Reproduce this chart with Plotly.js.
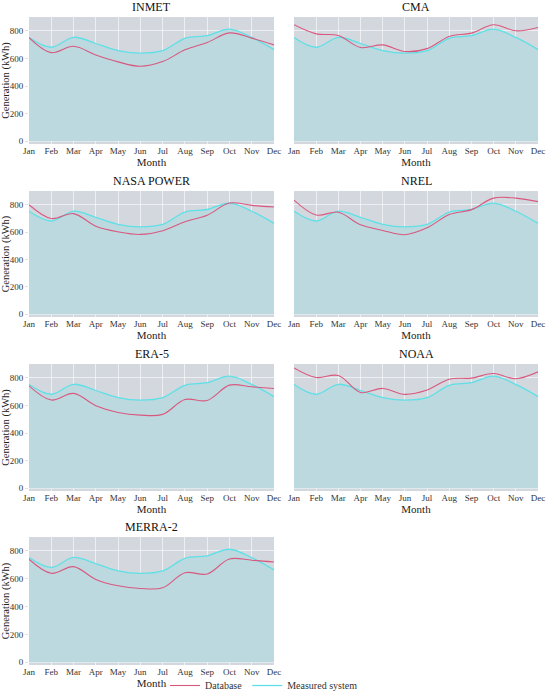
<!DOCTYPE html>
<html>
<head>
<meta charset="utf-8">
<script src="https://cdn.plot.ly/plotly-3.0.1.min.js"></script>
<style>html,body{margin:0;padding:0;background:#fff;}#chart{width:550px;height:700px;}</style>
</head>
<body>
<div id="chart"></div>
<script>
const months = ["Jan","Feb","Mar","Apr","May","Jun","Jul","Aug","Sep","Oct","Nov","Dec"];
const measured = [752, 681, 753, 708, 657, 638, 656, 746, 765, 812, 752, 664];
const inmet    = [750, 642, 688, 625, 575, 543, 577, 662, 715, 785, 747, 698];
const cma      = [844, 778, 766, 679, 698, 650, 671, 759, 783, 844, 800, 824];
const nasa     = [800, 699, 735, 643, 602, 583, 610, 675, 723, 812, 795, 783];
const nrel     = [834, 725, 745, 653, 612, 581, 631, 728, 764, 848, 848, 822];
const era5     = [742, 639, 687, 598, 549, 530, 535, 643, 636, 747, 735, 723];
const noaa     = [872, 802, 817, 694, 723, 680, 711, 790, 798, 831, 793, 843];
const merra2   = [740, 639, 687, 595, 549, 530, 535, 643, 634, 742, 733, 720];
const panelNames = ["INMET","CMA","NASA POWER","NREL","ERA-5","NOAA","MERRA-2"];
const panelData = [inmet, cma, nasa, nrel, era5, noaa, merra2];
const yTicks = [0, 200, 400, 600, 800];

const W = 550, H = 700;
const colX = [[29, 274], [294, 538]];
const rowY = [[17, 144], [191, 317], [364, 491], [537, 665]];
const xIdx = months.map((m, i) => i);

const dbColor = "#d9587e";
const msColor = "#5ee0e6";
const fillColor = "#bcd9df";
const bg = "#d3d7de";
const gridColor = "rgba(255,255,255,0.6)";
const font = "Liberation Serif";

const traces = [];
const layout = {
  width: W, height: H,
  margin: {l: 0, r: 0, t: 0, b: 0},
  paper_bgcolor: "#fff",
  plot_bgcolor: bg,
  font: {family: font, color: "#333", size: 9},
  showlegend: true,
  legend: {orientation: "h", x: 0.48, xanchor: "center", y: 0, yanchor: "bottom",
           bgcolor: "rgba(0,0,0,0)", font: {family: font, size: 10, color: "#333"}},
  annotations: []
};

panelData.forEach((db, i) => {
  const col = i % 2, row = Math.floor(i / 2);
  const n = i + 1;
  const xa = "x" + (n === 1 ? "" : n), ya = "y" + (n === 1 ? "" : n);
  const xk = "xaxis" + (n === 1 ? "" : n), yk = "yaxis" + (n === 1 ? "" : n);
  const xd = [colX[col][0] / W, colX[col][1] / W];
  const yd = [1 - rowY[row][1] / H, 1 - rowY[row][0] / H];
  traces.push({
    x: xIdx, y: measured, xaxis: xa, yaxis: ya, type: "scatter", mode: "lines",
    line: {color: msColor, width: 1.3, shape: "spline", smoothing: 1},
    fill: "tozeroy", fillcolor: fillColor,
    name: "Measured system", showlegend: false, hoverinfo: "skip"
  });
  traces.push({
    x: xIdx, y: db, xaxis: xa, yaxis: ya, type: "scatter", mode: "lines",
    line: {color: dbColor, width: 1.1, shape: "spline", smoothing: 1},
    name: "Database", legendrank: 1, showlegend: i === 0, hoverinfo: "skip"
  });
  if (i === 0) {
    traces.push({
      x: [null], y: [null], xaxis: xa, yaxis: ya, type: "scatter", mode: "lines",
      line: {color: msColor, width: 1.3},
      name: "Measured system", legendrank: 2, showlegend: true, hoverinfo: "skip"
    });
  }
  layout[xk] = {
    domain: xd, anchor: ya, range: [0, 11],
    tickvals: xIdx, ticktext: months, showgrid: true, gridcolor: gridColor, gridwidth: 1,
    zeroline: false, showline: false, ticks: "", tickfont: {family: font, size: 9, color: "#333"},
    title: {text: "Month", font: {family: font, size: 11, color: "#222"}, standoff: 1},
    automargin: false
  };
  layout[yk] = {
    domain: yd, anchor: xa, range: [-20, 900],
    tickvals: yTicks, showgrid: true, gridcolor: gridColor, gridwidth: 1,
    zeroline: false, showline: false, ticks: col === 0 ? "outside" : "", ticklen: 3, tickcolor: "#dde0e5",
    showticklabels: col === 0,
    tickfont: {family: font, size: 9, color: "#333"},
    title: col === 0 ? {text: "Generation (kWh)", font: {family: font, size: 10.5, color: "#222"}, standoff: 4} : {text: ""},
    automargin: false
  };
  layout.annotations.push({
    text: panelNames[i], xref: "paper", yref: "paper",
    x: (xd[0] + xd[1]) / 2, y: yd[1] + 1 / H, xanchor: "center", yanchor: "bottom",
    showarrow: false, font: {family: font, size: 12, color: "#111"}
  });
});

Plotly.newPlot("chart", traces, layout, {displayModeBar: false, staticPlot: true});
</script>
</body>
</html>
